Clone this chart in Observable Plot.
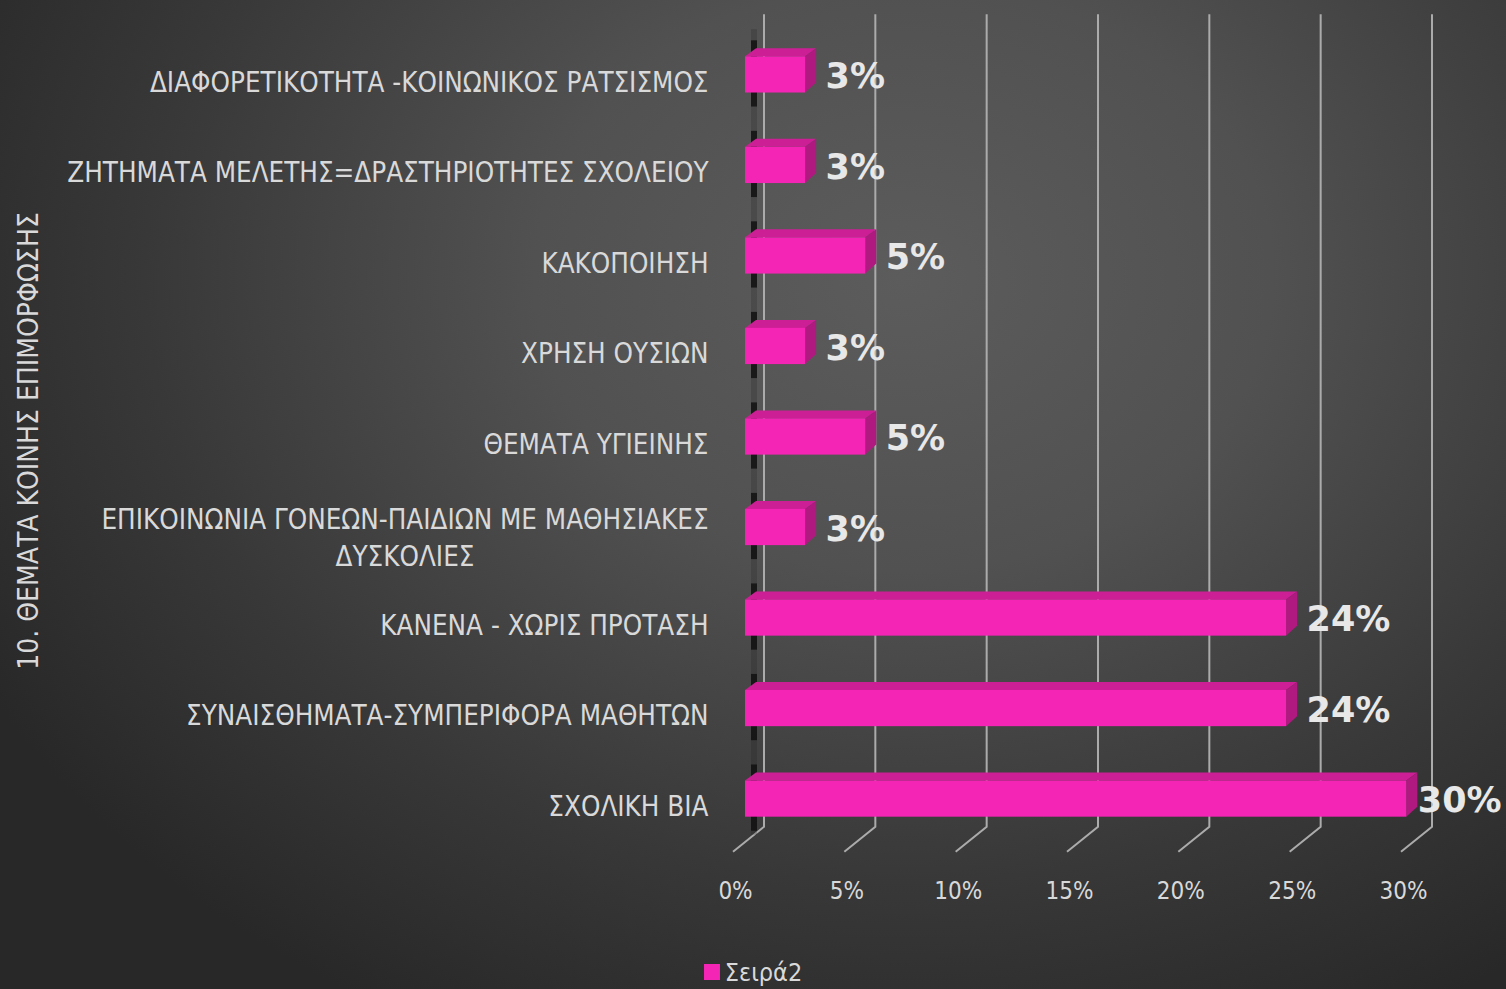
<!DOCTYPE html>
<html><head><meta charset="utf-8">
<script src="https://cdn.jsdelivr.net/npm/d3@7"></script>
<script src="https://cdn.jsdelivr.net/npm/@observablehq/plot@0.6"></script>
<style>
html,body{margin:0;padding:0;}
body{width:1506px;height:989px;overflow:hidden;
  background: radial-gradient(ellipse 70% 85% at 60% 28%, #5c5c5c 0%, #515151 35%, #383838 72%, #282828 100%);}
#legend{height:34px;display:flex;justify-content:center;align-items:center;gap:5px;
  font-family:"DejaVu Sans Condensed","Liberation Sans Narrow","Open Sans",sans-serif;font-size:25px;color:#d9d9d9;}
#legend .sw{width:16px;height:16px;background:#F425B4;display:inline-block;}
</style></head>
<body><div id="chart"></div><div id="legend"></div>
<script>
const categories = [
  "ΔΙΑΦΟΡΕΤΙΚΟΤΗΤΑ -ΚΟΙΝΩΝΙΚΟΣ ΡΑΤΣΙΣΜΟΣ",
  "ΖΗΤΗΜΑΤΑ ΜΕΛΕΤΗΣ=ΔΡΑΣΤΗΡΙΟΤΗΤΕΣ ΣΧΟΛΕΙΟΥ",
  "ΚΑΚΟΠΟΙΗΣΗ",
  "ΧΡΗΣΗ ΟΥΣΙΩΝ",
  "ΘΕΜΑΤΑ ΥΓΙΕΙΝΗΣ",
  "ΕΠΙΚΟΙΝΩΝΙΑ ΓΟΝΕΩΝ-ΠΑΙΔΙΩΝ ΜΕ ΜΑΘΗΣΙΑΚΕΣ ΔΥΣΚΟΛΙΕΣ",
  "ΚΑΝΕΝΑ - ΧΩΡΙΣ ΠΡΟΤΑΣΗ",
  "ΣΥΝΑΙΣΘΗΜΑΤΑ-ΣΥΜΠΕΡΙΦΟΡΑ ΜΑΘΗΤΩΝ",
  "ΣΧΟΛΙΚΗ ΒΙΑ"
];
const values = [0.027, 0.027, 0.054, 0.027, 0.054, 0.027, 0.243, 0.243, 0.297];
const wrappedLabels = {
  "ΕΠΙΚΟΙΝΩΝΙΑ ΓΟΝΕΩΝ-ΠΑΙΔΙΩΝ ΜΕ ΜΑΘΗΣΙΑΚΕΣ ΔΥΣΚΟΛΙΕΣ": ["ΕΠΙΚΟΙΝΩΝΙΑ ΓΟΝΕΩΝ-ΠΑΙΔΙΩΝ ΜΕ ΜΑΘΗΣΙΑΚΕΣ", "ΔΥΣΚΟΛΙΕΣ"]
};
const xTicks = [0, 0.05, 0.10, 0.15, 0.20, 0.25, 0.30];
const xTickLabels = ["0%", "5%", "10%", "15%", "20%", "25%", "30%"];
const seriesName = "Σειρά2";
const axisTitle = "10. ΘΕΜΑΤΑ ΚΟΙΝΗΣ ΕΠΙΜΟΡΦΩΣΗΣ";

const data = categories.map((c, i) => ({category: c, value: values[i]}));
const FONT = '"DejaVu Sans Condensed","Liberation Sans Narrow","Open Sans",sans-serif';
const BOLD = '"DejaVu Sans","Open Sans",sans-serif';
const TEXT = "#d9d9d9";
const FRONT = "#F425B4", TOP = "#CC1F96", SIDE = "#B0197F";
const LABEL_SIZE = 27.5;
const PAD = 0.6;

function measure(text, font) {
  const ctx = document.createElement("canvas").getContext("2d");
  ctx.font = font;
  return ctx.measureText(text).width;
}

function bandInfo(scales) {
  const sy = scales.y;
  let bw = typeof sy.bandwidth === "function" ? sy.bandwidth() : NaN;
  if (!(bw > 0)) bw = (sy(categories[1]) - sy(categories[0])) * (1 - PAD);
  return {sy, bw};
}

function gridMark(index, scales) {
  const sx = scales.x;
  const {sy, bw} = bandInfo(scales);
  const top = sy(categories[0]) - 42;
  const bottom = sy(categories[categories.length - 1]) + bw + 10;
  const g = d3.create("svg:g").attr("fill", "none").attr("stroke", "#ababab").attr("stroke-width", 2);
  for (const t of xTicks) {
    const x = sx(t);
    g.append("path").attr("d", `M${x + 19},${top}V${bottom}L${x - 12},${bottom + 25}`);
  }
  g.append("line").attr("x1", sx(0) + 9).attr("x2", sx(0) + 9).attr("y1", top + 15).attr("y2", bottom + 8)
    .attr("stroke", "#1a1a1a").attr("stroke-width", 6).attr("opacity", 0.2);
  return g.node();
}

function bars3d(index, scales) {
  const sx = scales.x;
  const {sy, bw} = bandInfo(scales);
  const DX = 11, DY = -8;
  const x0 = sx(0);
  const g = d3.create("svg:g");
  for (const d of data) {
    const y0 = sy(d.category), y1 = y0 + bw, x1 = sx(d.value);
    g.append("line").attr("x1", x0 + 9).attr("x2", x0 + 9).attr("y1", y0 - 16).attr("y2", y1 + 14)
      .attr("stroke", "#111").attr("stroke-width", 6).attr("opacity", 0.85);
    g.append("polygon").attr("fill", TOP)
      .attr("points", [[x0, y0], [x0 + DX, y0 + DY], [x1 + DX, y0 + DY], [x1, y0]].map(p => p.join(",")).join(" "));
    g.append("polygon").attr("fill", SIDE)
      .attr("points", [[x1, y0], [x1 + DX, y0 + DY], [x1 + DX, y1 + DY - 2], [x1, y1]].map(p => p.join(",")).join(" "));
    g.append("rect").attr("x", x0).attr("y", y0).attr("width", x1 - x0).attr("height", bw).attr("fill", FRONT);
  }
  return g.node();
}

const single = categories.filter(c => !wrappedLabels[c]);
const wrapped = categories.filter(c => wrappedLabels[c]);
const labelFont = `${LABEL_SIZE}px ${FONT}`;
const maxValue = d3.max(values);
const pct = v => Math.round(v * 100) + "%";

const chart = Plot.plot({
  width: 1506,
  height: 955,
  marginLeft: 745,
  marginRight: 93,
  marginTop: 2,
  marginBottom: 84,
  style: {background: "transparent", overflow: "visible"},
  x: {domain: [0, 0.30], label: null},
  y: {type: "band", domain: categories, paddingInner: PAD, paddingOuter: PAD, round: false, axis: null, label: null},
  marks: [
    gridMark,
    Plot.axisX({ticks: xTicks, tickFormat: d => xTickLabels[xTicks.indexOf(d)], tickSize: 0, tickPadding: 10,
      dx: -10, fontSize: 24, fontFamily: FONT, color: TEXT, label: null}),
    bars3d,
    Plot.text(single, {x: () => 0, y: d => d, text: d => d, textAnchor: "end", dx: -37, dy: 8,
      fontSize: LABEL_SIZE, fontFamily: FONT, fill: TEXT}),
    Plot.text(wrapped, {x: () => 0, y: d => d, text: d => wrappedLabels[d].join("\n"), textAnchor: "middle",
      dx: -(37 + measure(wrappedLabels[wrapped[0]][0], labelFont) / 2), dy: 8, lineHeight: 1.35,
      fontSize: LABEL_SIZE, fontFamily: FONT, fill: TEXT}),
    Plot.text(data.filter(d => d.value < maxValue), {x: "value", y: "category", text: d => pct(d.value), textAnchor: "start",
      dx: 20, dy: 2, fontSize: 35, fontWeight: "bold", fontFamily: BOLD, fill: "#e8e8e8"}),
    Plot.text(data.filter(d => d.value === maxValue), {x: "value", y: "category", text: d => pct(d.value), textAnchor: "start",
      dx: 11, dy: 2, fontSize: 35, fontWeight: "bold", fontFamily: BOLD, fill: "#e8e8e8"}),
    Plot.text([axisTitle], {frameAnchor: "left", textAnchor: "middle", text: d => d, rotate: -90, dx: -716, dy: 4,
      fontSize: 28, fontFamily: FONT, fill: TEXT})
  ]
});
document.getElementById("chart").appendChild(chart);
document.getElementById("legend").innerHTML = `<span class="sw"></span><span>${seriesName}</span>`;
</script></body></html>
